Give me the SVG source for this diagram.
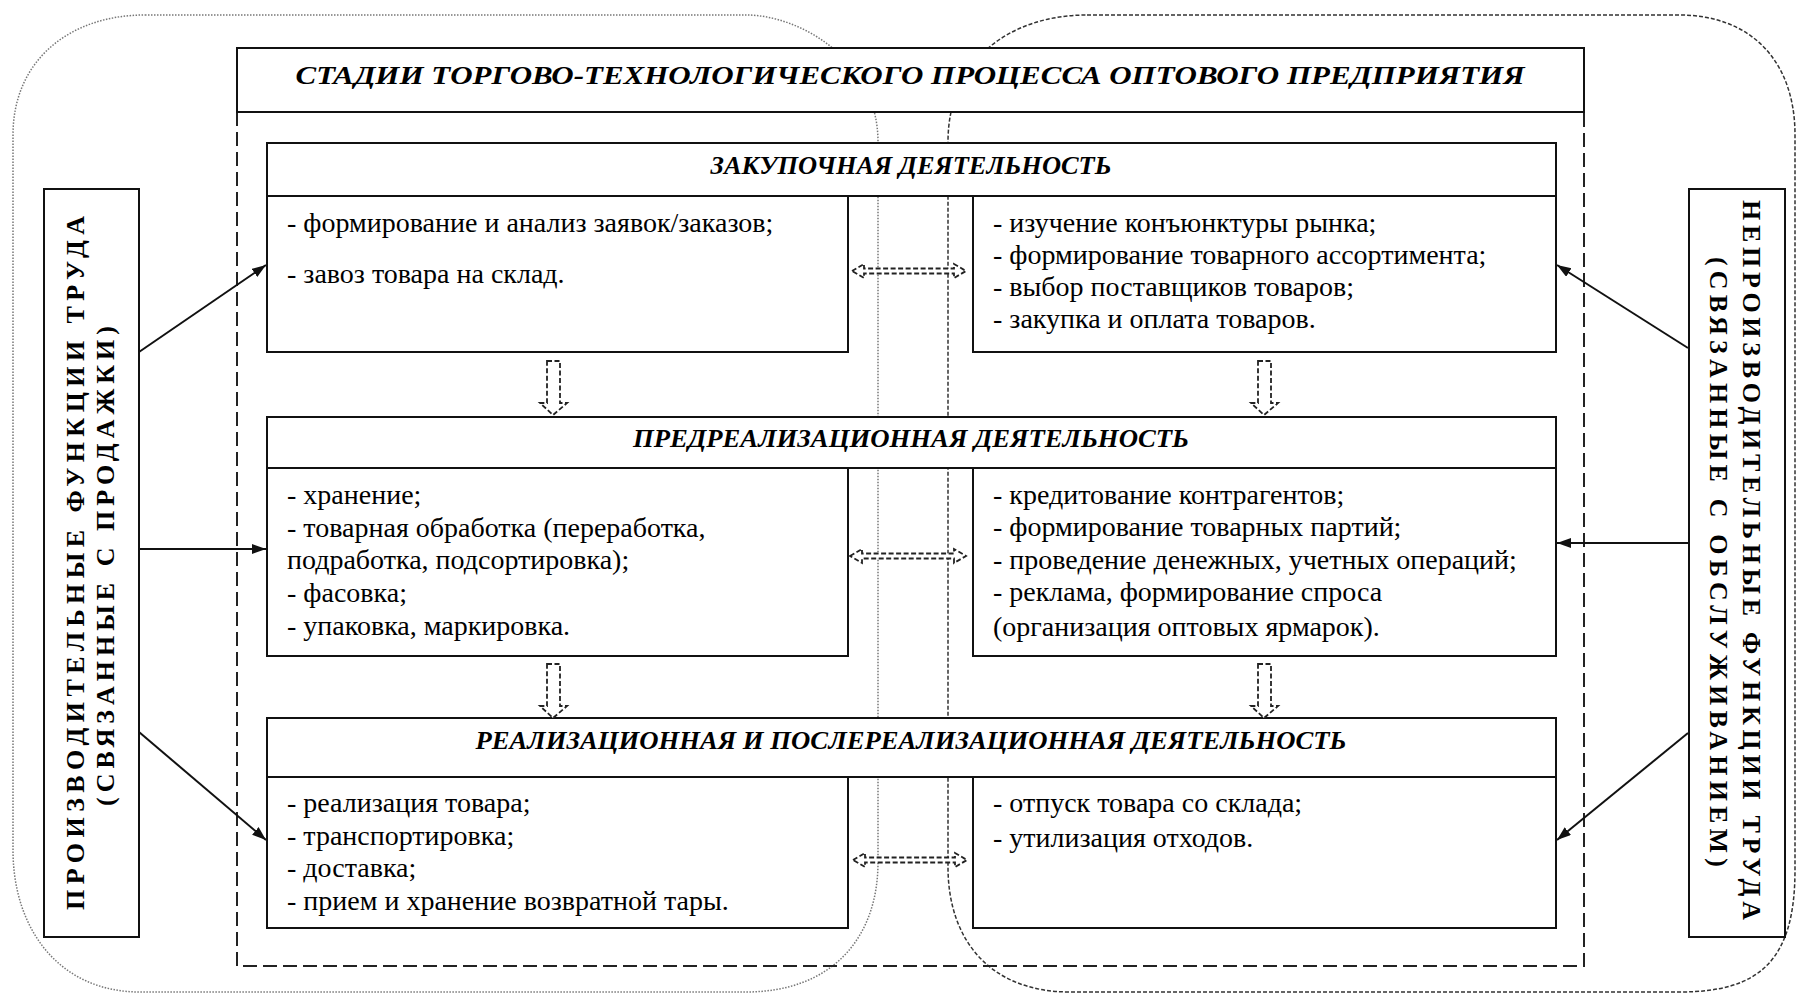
<svg xmlns="http://www.w3.org/2000/svg" width="1798" height="995" viewBox="0 0 1798 995">
<defs>
<style>
.box{fill:#fff;stroke:#111;stroke-width:2}
.t{font-family:'Liberation Serif','Times New Roman','DejaVu Serif',serif;font-size:28px;fill:#000}
.h{font-family:'Liberation Serif','Times New Roman','DejaVu Serif',serif;font-size:26px;font-weight:bold;font-style:italic;text-anchor:middle;fill:#000}
.side{font-family:'Liberation Serif','Times New Roman','DejaVu Serif',serif;font-size:26px;font-weight:bold;text-anchor:middle;fill:#000}
.dashrect{fill:none;stroke:#222;stroke-width:2;stroke-dasharray:14 6}
.ovl{fill:none;stroke:#777;stroke-width:1.5;stroke-dasharray:1.5 1.5}
.ovr{fill:none;stroke:#333;stroke-width:1.5;stroke-dasharray:4 2}
.conn{stroke:#111;stroke-width:2;fill:none;marker-end:url(#ah)}
.hollow{fill:#fff;stroke:#222;stroke-width:1.8;stroke-dasharray:5 2.5}
</style>
<marker id="ah" markerWidth="16" markerHeight="12" refX="14" refY="5" orient="auto" markerUnits="userSpaceOnUse"><path d="M0,0 L14,5 L0,10 Z" fill="#111"/></marker>
</defs>
<rect width="1798" height="995" fill="#fff"/>
<g id="areas">
<path class="ovl" d="M145,15 H746 C800,15 878,60 878,142 V862 C878,940 830,992 746,992 H140 C60,992 13,930 13,850 V135 C13,60 70,15 145,15 Z"/>
<path class="ovr" d="M1087,15 H1679 C1750,15 1795,60 1795,135 V870 C1795,960 1760,992 1680,992 H1070 C990,992 948,940 948,867 V142 C948,60 1010,15 1087,15 Z"/>
<path class="dashrect" d="M237,112 V966 H1584 V112"/>
</g>
<g id="title">
<rect class="box" x="237" y="48" width="1347" height="64"/>
<text class="h" x="910" y="84" font-size="30" textLength="1229" lengthAdjust="spacingAndGlyphs">СТАДИИ ТОРГОВО-ТЕХНОЛОГИЧЕСКОГО ПРОЦЕССА ОПТОВОГО ПРЕДПРИЯТИЯ</text>
</g>
<g id="stage1">
<rect class="box" x="267" y="143" width="1289" height="53"/>
<text class="h" x="911" y="174" textLength="401" lengthAdjust="spacingAndGlyphs">ЗАКУПОЧНАЯ ДЕЯТЕЛЬНОСТЬ</text>
<rect class="box" x="267" y="196" width="581" height="156"/>
<text class="t" x="287" y="232">- формирование и анализ заявок/заказов;</text>
<text class="t" x="287" y="283">- завоз товара на склад.</text>
<rect class="box" x="973" y="196" width="583" height="156"/>
<text class="t" x="993" y="232">- изучение конъюнктуры рынка;</text>
<text class="t" x="993" y="264">- формирование товарного ассортимента;</text>
<text class="t" x="993" y="296">- выбор поставщиков товаров;</text>
<text class="t" x="993" y="328">- закупка и оплата товаров.</text>
</g>
<g id="stage2">
<rect class="box" x="267" y="417" width="1289" height="51"/>
<text class="h" x="911" y="447" textLength="556" lengthAdjust="spacingAndGlyphs">ПРЕДРЕАЛИЗАЦИОННАЯ ДЕЯТЕЛЬНОСТЬ</text>
<rect class="box" x="267" y="468" width="581" height="188"/>
<text class="t" x="287" y="504">- хранение;</text>
<text class="t" x="287" y="537">- товарная обработка (переработка,</text>
<text class="t" x="287" y="569">подработка, подсортировка);</text>
<text class="t" x="287" y="602">- фасовка;</text>
<text class="t" x="287" y="635">- упаковка, маркировка.</text>
<rect class="box" x="973" y="468" width="583" height="188"/>
<text class="t" x="993" y="504">- кредитование контрагентов;</text>
<text class="t" x="993" y="536">- формирование товарных партий;</text>
<text class="t" x="993" y="569">- проведение денежных, учетных операций;</text>
<text class="t" x="993" y="601">- реклама, формирование спроса</text>
<text class="t" x="993" y="636">(организация оптовых ярмарок).</text>
</g>
<g id="stage3">
<rect class="box" x="267" y="718" width="1289" height="59"/>
<text class="h" x="911" y="749" textLength="871" lengthAdjust="spacingAndGlyphs">РЕАЛИЗАЦИОННАЯ И ПОСЛЕРЕАЛИЗАЦИОННАЯ ДЕЯТЕЛЬНОСТЬ</text>
<rect class="box" x="267" y="777" width="581" height="151"/>
<text class="t" x="287" y="812">- реализация товара;</text>
<text class="t" x="287" y="845">- транспортировка;</text>
<text class="t" x="287" y="877">- доставка;</text>
<text class="t" x="287" y="910">- прием и хранение возвратной тары.</text>
<rect class="box" x="973" y="777" width="583" height="151"/>
<text class="t" x="993" y="812">- отпуск товара со склада;</text>
<text class="t" x="993" y="847">- утилизация отходов.</text>
</g>
<g id="productive">
<rect class="box" x="44" y="189" width="95" height="748"/>
<text class="side" transform="translate(84,563) rotate(-90)" textLength="694" lengthAdjust="spacing">ПРОИЗВОДИТЕЛЬНЫЕ ФУНКЦИИ ТРУДА</text>
<text class="side" transform="translate(114,566) rotate(-90)" textLength="480" lengthAdjust="spacing">(СВЯЗАННЫЕ С ПРОДАЖКИ)</text>
</g>
<g id="nonproductive">
<rect class="box" x="1689" y="189" width="96" height="748"/>
<text class="side" transform="translate(1743,560) rotate(90)" textLength="720" lengthAdjust="spacing">НЕПРОИЗВОДИТЕЛЬНЫЕ ФУНКЦИИ ТРУДА</text>
<text class="side" transform="translate(1710,562) rotate(90)" textLength="610" lengthAdjust="spacing">(СВЯЗАННЫЕ С ОБСЛУЖИВАНИЕМ)</text>
</g>
<g id="connectors">
<line class="conn" x1="139" y1="352" x2="266" y2="265"/>
<line class="conn" x1="139" y1="549" x2="266" y2="549"/>
<line class="conn" x1="139" y1="732" x2="266" y2="840"/>
<line class="conn" x1="1688" y1="348" x2="1557" y2="265"/>
<line class="conn" x1="1688" y1="543" x2="1557" y2="543"/>
<line class="conn" x1="1688" y1="733" x2="1557" y2="840"/>
<path class="hollow" d="M852,271 L864,264 L864,268.5 L954,268.5 L954,264 L966,271 L954,278 L954,273.5 L864,273.5 L864,278 Z"/>
<path class="hollow" d="M850,556 L862,549 L862,553.5 L954,553.5 L954,549 L966,556 L954,563 L954,558.5 L862,558.5 L862,563 Z"/>
<path class="hollow" d="M853,860 L865,853 L865,857.5 L955,857.5 L955,853 L967,860 L955,867 L955,862.5 L865,862.5 L865,867 Z"/>
<path class="hollow" d="M547,361 L560,361 L560,403 L567,403 L553,415 L540,403 L547,403 Z"/>
<path class="hollow" d="M1258,361 L1271,361 L1271,403 L1278,403 L1264,415 L1251,403 L1258,403 Z"/>
<path class="hollow" d="M547,664 L560,664 L560,706 L567,706 L553,718 L540,706 L547,706 Z"/>
<path class="hollow" d="M1258,664 L1271,664 L1271,706 L1278,706 L1264,718 L1251,706 L1258,706 Z"/>
</g>
</svg>
